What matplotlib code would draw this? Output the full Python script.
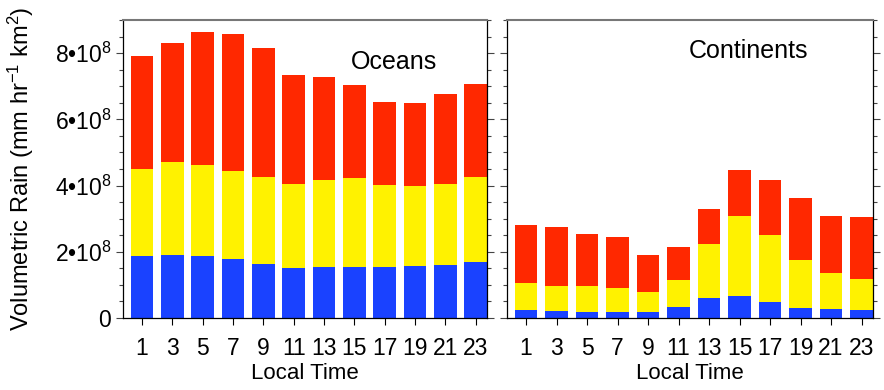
import matplotlib
matplotlib.use("Agg")
import matplotlib.pyplot as plt
import numpy as np
from matplotlib.ticker import MultipleLocator, FixedLocator

plt.rcParams["font.family"] = ["Liberation Sans", "DejaVu Sans"]
plt.rcParams["mathtext.fontset"] = "custom"
plt.rcParams["mathtext.rm"] = "Liberation Sans"
plt.rcParams["mathtext.it"] = "Liberation Sans"

# local time of day (hours)
hours = [1, 3, 5, 7, 9, 11, 13, 15, 17, 19, 21, 23]

# stacked layers, units of 1e8 mm hr^-1 km^2 (bottom -> top)
ocean_blue = [1.86, 1.91, 1.86, 1.79, 1.62, 1.52, 1.54, 1.55, 1.53, 1.57, 1.61, 1.69]
ocean_yellow = [2.64, 2.81, 2.76, 2.64, 2.65, 2.54, 2.62, 2.69, 2.48, 2.43, 2.45, 2.58]
ocean_red = [3.40, 3.60, 4.01, 4.15, 3.89, 3.29, 3.13, 2.80, 2.50, 2.50, 2.70, 2.81]

land_blue = [0.23, 0.20, 0.19, 0.18, 0.18, 0.34, 0.61, 0.67, 0.48, 0.30, 0.27, 0.23]
land_yellow = [0.82, 0.78, 0.77, 0.73, 0.60, 0.82, 1.62, 2.40, 2.04, 1.46, 1.08, 0.96]
land_red = [1.75, 1.76, 1.57, 1.54, 1.12, 0.98, 1.05, 1.41, 1.66, 1.87, 1.73, 1.87]

ytick_vals = [0, 2, 4, 6, 8]
ytick_labels = ["0", "2\u202210$^{8}$", "4\u202210$^{8}$", "6\u202210$^{8}$", "8\u202210$^{8}$"]

COLORS = ["#1a42ff", "#fff200", "#ff2800"]
SCALE = 1e8

fig = plt.figure(figsize=(8.84, 3.9), dpi=100)
ax1 = fig.add_axes([123 / 884, 72 / 390, 364 / 884, 298 / 390])
ax2 = fig.add_axes([507 / 884, 72 / 390, 366 / 884, 298 / 390])


def panel(ax, layers, name, tx, ty):
    x = np.array(hours)
    bottom = np.zeros(len(hours))
    for vals, col in zip(layers, COLORS):
        v = np.array(vals) * SCALE
        ax.bar(x, v, width=1.5, bottom=bottom, color=col, linewidth=0)
        bottom += v
    ax.set_xlim(-0.25, 23.75)
    ax.set_ylim(0, 9e8)
    ax.set_xticks(hours)
    ax.set_xticklabels([str(h) for h in hours], fontsize=16.5)
    ax.yaxis.set_major_locator(FixedLocator([v * SCALE for v in ytick_vals]))
    ax.yaxis.set_minor_locator(MultipleLocator(0.5e8))
    ax.tick_params(axis="y", which="both", left=True, right=True, direction="out", width=0.8, color="#444444")
    ax.tick_params(axis="y", which="major", length=5)
    ax.tick_params(axis="y", which="minor", length=3)
    ax.tick_params(axis="x", direction="out", length=5, width=0.8, pad=9)
    ax.spines["top"].set_color("#777777")
    ax.spines["top"].set_linewidth(1.5)
    for s in ("left", "right", "bottom"):
        ax.spines[s].set_linewidth(0.9)
    ax.set_xlabel("Local Time", fontsize=16, labelpad=2)
    ax.text(tx, ty, name, transform=ax.transAxes, fontsize=18, ha="center", va="center")


panel(ax1, [ocean_blue, ocean_yellow, ocean_red], "Oceans", 0.745, 0.86)
panel(ax2, [land_blue, land_yellow, land_red], "Continents", 0.66, 0.895)

ax1.set_yticklabels(ytick_labels, fontsize=16.5)
ax2.set_yticklabels([])
ax1.set_ylabel("Volumetric Rain (mm hr$^{-1}$ km$^{2}$)", fontsize=17)
ax1.yaxis.set_label_coords(-0.24, 0.5)

fig.savefig("out.png", dpi=100)
